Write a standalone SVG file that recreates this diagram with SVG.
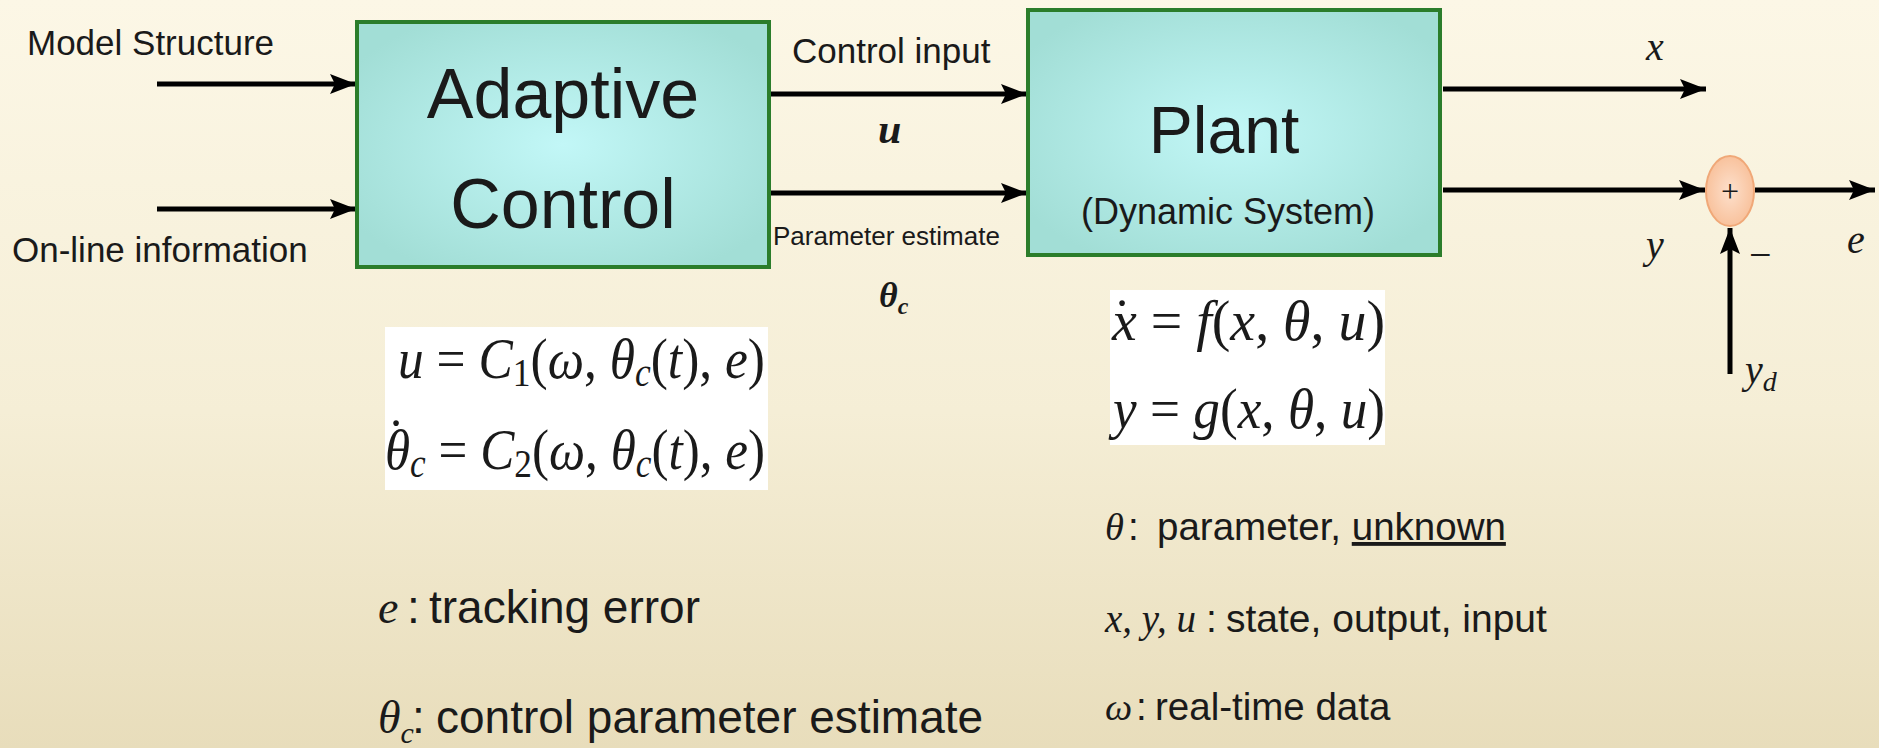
<svg xmlns="http://www.w3.org/2000/svg" width="1879" height="748" viewBox="0 0 1879 748">
<style>
.sans{font-family:"Liberation Sans",Arial,sans-serif;fill:#1a1a1a}
.mi{font-family:"Liberation Serif","Times New Roman",serif;font-style:italic;fill:#1a1a1a}
.mr{font-family:"Liberation Serif","Times New Roman",serif;fill:#1a1a1a}
.conn{stroke:#000;stroke-width:5;fill:none;marker-end:url(#ah)}
.box{stroke:#2b7d2b;stroke-width:4;fill:url(#cyan)}
</style>
<defs>
<linearGradient id="bg" x1="0" y1="0" x2="0" y2="1">
<stop offset="0" stop-color="#fcf7e6"/>
<stop offset="0.55" stop-color="#f5eed6"/>
<stop offset="1" stop-color="#e8ddbb"/>
</linearGradient>
<radialGradient id="cyan" cx="0.5" cy="0.5" r="0.6">
<stop offset="0" stop-color="#c2f7f7"/>
<stop offset="1" stop-color="#a2ded6"/>
</radialGradient>
<radialGradient id="peach" cx="0.5" cy="0.5" r="0.55">
<stop offset="0" stop-color="#fde0cc"/>
<stop offset="1" stop-color="#f8bf98"/>
</radialGradient>
<marker id="ah" markerUnits="userSpaceOnUse" markerWidth="26" markerHeight="20" refX="26" refY="10" orient="auto">
<path d="M0,0 L26,10 L0,20 L5,10 z" fill="#000"/>
</marker>
</defs>
<rect width="1879" height="748" fill="url(#bg)"/>

<g id="connectors">
<line class="conn" x1="157" y1="84" x2="356" y2="84"/>
<line class="conn" x1="157" y1="209" x2="356" y2="209"/>
<line class="conn" x1="771" y1="94" x2="1027" y2="94"/>
<line class="conn" x1="771" y1="193" x2="1027" y2="193"/>
<line class="conn" x1="1443" y1="89" x2="1706" y2="89"/>
<line class="conn" x1="1443" y1="190" x2="1705" y2="190"/>
<line class="conn" x1="1755" y1="190" x2="1875" y2="190"/>
<line class="conn" x1="1730" y1="374" x2="1730" y2="228"/>
</g>

<g id="label-inputs">
<text class="sans" x="27" y="55" font-size="35">Model Structure</text>
<text class="sans" x="12" y="262" font-size="35">On-line information</text>
</g>

<g id="adaptive-control">
<rect class="box" x="357" y="22" width="412" height="245"/>
<text class="sans" x="563" y="118" font-size="70" text-anchor="middle">Adaptive</text>
<text class="sans" x="563" y="228" font-size="70" text-anchor="middle">Control</text>
</g>

<g id="label-mid">
<text class="sans" x="792" y="63" font-size="35">Control input</text>
<text class="mi" x="878" y="143" font-size="42" font-weight="bold">u</text>
<text class="sans" x="773" y="245" font-size="26">Parameter estimate</text>
<text class="mi" x="879" y="307" font-size="36" font-weight="bold">θ<tspan font-size="24" dy="7">c</tspan></text>
</g>

<g id="plant">
<rect class="box" x="1028" y="10" width="412" height="245"/>
<text class="sans" x="1224" y="153" font-size="66" text-anchor="middle">Plant</text>
<text class="sans" x="1228" y="224" font-size="36" text-anchor="middle">(Dynamic System)</text>
</g>

<g id="label-outputs">
<text class="mi" x="1646" y="60" font-size="40">x</text>
<text class="mi" x="1646" y="258" font-size="40">y</text>
<text class="mi" x="1847" y="253" font-size="40">e</text>
<text class="mr" x="1749" y="268" font-size="40">−</text>
<text class="mi" x="1745" y="383" font-size="40">y<tspan font-size="28" dy="8">d</tspan></text>
</g>

<g id="summing-junction">
<ellipse cx="1730" cy="191" rx="24" ry="35" fill="url(#peach)" stroke="#f0a878" stroke-width="2"/>
<text class="mr" x="1730" y="202" font-size="32" text-anchor="middle">+</text>
</g>

<g id="controller-equations">
<rect x="385" y="327" width="383" height="163" fill="#fff"/>
<text class="mr" x="398" y="378" font-size="58" textLength="367" lengthAdjust="spacingAndGlyphs"><tspan class="mi">u</tspan> = <tspan class="mi">C</tspan><tspan font-size="40" dy="8">1</tspan><tspan dy="-8">(</tspan><tspan class="mi">ω</tspan>, <tspan class="mi">θ</tspan><tspan class="mi" font-size="40" dy="8">c</tspan><tspan dy="-8">(</tspan><tspan class="mi">t</tspan>), <tspan class="mi">e</tspan>)</text>
<text class="mr" x="387" y="457" font-size="54">˙</text>
<text class="mr" x="385" y="469" font-size="58" textLength="380" lengthAdjust="spacingAndGlyphs"><tspan class="mi">θ</tspan><tspan class="mi" font-size="40" dy="8">c</tspan><tspan dy="-8"> = </tspan><tspan class="mi">C</tspan><tspan font-size="40" dy="8">2</tspan><tspan dy="-8">(</tspan><tspan class="mi">ω</tspan>, <tspan class="mi">θ</tspan><tspan class="mi" font-size="40" dy="8">c</tspan><tspan dy="-8">(</tspan><tspan class="mi">t</tspan>), <tspan class="mi">e</tspan>)</text>
</g>

<g id="plant-equations">
<rect x="1110" y="290" width="275" height="155" fill="#fff"/>
<text class="mr" x="1112" y="340" font-size="58" textLength="273" lengthAdjust="spacingAndGlyphs"><tspan class="mi">x</tspan> = <tspan class="mi">f</tspan>(<tspan class="mi">x</tspan>, <tspan class="mi">θ</tspan>, <tspan class="mi">u</tspan>)</text>
<text class="mr" x="1113" y="337" font-size="54">˙</text>
<text class="mr" x="1113" y="428" font-size="58" textLength="272" lengthAdjust="spacingAndGlyphs"><tspan class="mi">y</tspan> = <tspan class="mi">g</tspan>(<tspan class="mi">x</tspan>, <tspan class="mi">θ</tspan>, <tspan class="mi">u</tspan>)</text>
</g>

<g id="legend-left">
<text class="sans" font-size="46" y="623"><tspan class="mi" x="378">e</tspan><tspan x="407">: </tspan><tspan x="429">tracking error</tspan></text>
<text class="sans" font-size="46" y="733"><tspan class="mi" x="378">θ</tspan><tspan class="mi" font-size="30" dy="10">c</tspan><tspan dy="-10" x="412">: </tspan><tspan x="436">control parameter estimate</tspan></text>
</g>

<g id="legend-right">
<text class="sans" font-size="38.5" y="540"><tspan class="mi" x="1105">θ</tspan><tspan x="1128">: </tspan><tspan x="1157">parameter, </tspan><tspan text-decoration="underline">unknown</tspan></text>
<text class="sans" font-size="39" y="632"><tspan class="mi" x="1105">x, y, u</tspan><tspan x="1206">: </tspan><tspan x="1226">state, output, input</tspan></text>
<text class="sans" font-size="38.5" y="720"><tspan class="mi" x="1105">ω</tspan><tspan x="1136">: </tspan><tspan x="1155">real-time data</tspan></text>
</g>
</svg>
